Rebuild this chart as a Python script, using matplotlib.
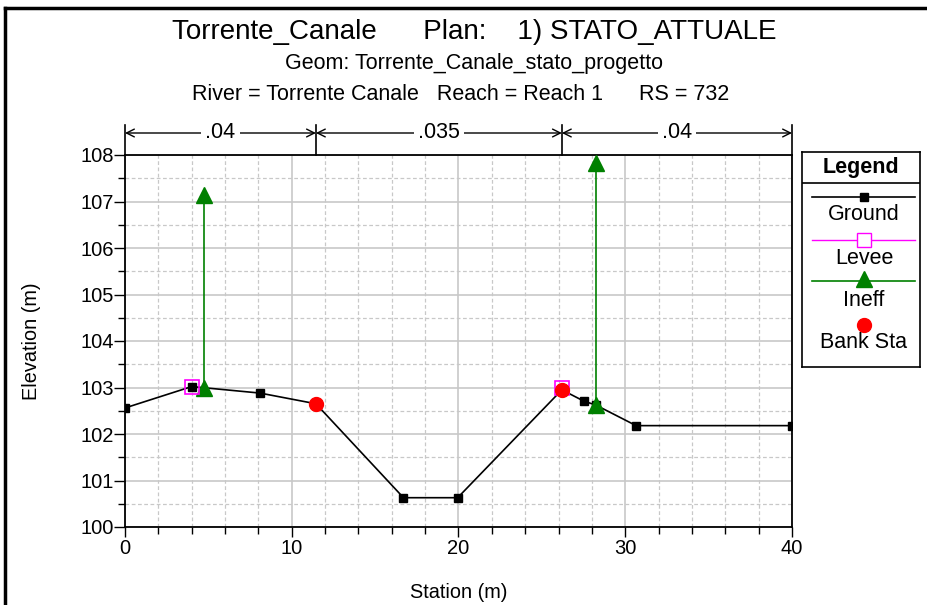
import numpy as np
import matplotlib
matplotlib.use("Agg")
import matplotlib.pyplot as plt
from matplotlib.lines import Line2D
from matplotlib.ticker import MultipleLocator
import matplotlib.transforms as mtransforms

plt.rcParams['font.family'] = ['Liberation Sans', 'DejaVu Sans']

# cross-section data (station m, elevation m)
ground_sta = [0.0, 4.0, 8.1, 11.45, 16.7, 19.95, 26.2, 27.5, 28.25, 30.65, 40.0]
ground_elev = [102.56, 103.02, 102.88, 102.65, 100.63, 100.63, 102.95, 102.71, 102.62, 102.18, 102.18]
levee_sta = [4.0, 26.2]
levee_elev = [103.02, 103.0]
ineff_sta = [4.75, 28.25]
ineff_low = [103.0, 102.62]
ineff_high = [107.15, 107.82]
bank_sta = [11.45, 26.2]
bank_elev = [102.65, 102.95]
n_bounds = [0.0, 11.45, 26.2, 40.0]
n_values = ['.04', '.035', '.04']

fig = plt.figure(figsize=(9.28, 6.05), dpi=100)
ax = fig.add_axes([125 / 928, 78 / 605, 667 / 928, 372 / 605])

ax.set_xlim(0, 40)
ax.set_ylim(100, 108)
ax.xaxis.set_major_locator(MultipleLocator(10))
ax.xaxis.set_minor_locator(MultipleLocator(2))
ax.yaxis.set_major_locator(MultipleLocator(1))
ax.yaxis.set_minor_locator(MultipleLocator(0.5))
ax.grid(which='major', color='#c8c8c8', lw=1.2, ls='-')
ax.grid(which='minor', color='#c8c8c8', lw=0.9, ls=(0, (3, 2)))
ax.set_axisbelow(True)
ax.tick_params(axis='x', which='major', direction='out', length=7, labelsize=14.5, width=1, pad=2)
ax.tick_params(axis='y', which='major', direction='out', length=8, labelsize=14.5, width=1, pad=0)
ax.tick_params(which='minor', direction='out', length=5, width=1)
for s in ax.spines.values():
    s.set_linewidth(1.3)

ax.plot(ground_sta, ground_elev, color='black', lw=1.2, marker='s', ms=6, zorder=3)
for x, lo, hi in zip(ineff_sta, ineff_low, ineff_high):
    ax.plot([x, x], [lo, hi], color='green', lw=1.2, marker='^', ms=11, zorder=4)
ax.plot(levee_sta, levee_elev, ls='none', marker='s', ms=10, mfc='none', mec='magenta', mew=1.2, zorder=5)
ax.plot(bank_sta, bank_elev, ls='none', marker='o', ms=10, color='red', zorder=6)

ax.set_xlabel('Station (m)', fontsize=14.3, va='center')
ax.xaxis.set_label_coords(0.5, -(593 - 527) / 372)
ax.set_ylabel('Elevation (m)', fontsize=14.3, va='center')
ax.yaxis.set_label_coords(-(125 - 31) / 667, 0.5)

# Manning's n band above the plot
trans = mtransforms.blended_transform_factory(ax.transData, ax.transAxes)
y_arrow = 1 + 22 / 372
for b in n_bounds:
    ax.plot([b, b], [1.0, 1 + 30 / 372], color='black', lw=1.2, transform=trans, clip_on=False)
for i, lab in enumerate(n_values):
    a, b = n_bounds[i], n_bounds[i + 1]
    mid = (a + b) / 2
    for end in (a, b):
        ax.annotate('', xy=(end, y_arrow), xytext=(mid, y_arrow), xycoords=trans, textcoords=trans,
                    arrowprops=dict(arrowstyle='->', color='black', lw=1, shrinkA=0, shrinkB=0,
                                    mutation_scale=14), annotation_clip=False)
    ax.text(mid, y_arrow, lab, transform=trans, ha='center', va='center', fontsize=15.5,
            bbox=dict(facecolor='white', edgecolor='none', pad=3), zorder=10)

# titles
fig.text(474 / 928, 1 - 32 / 605, 'Torrente_Canale      Plan:    1) STATO_ATTUALE', ha='center', va='center', fontsize=20)
fig.text(474 / 928, 1 - 64 / 605, 'Geom: Torrente_Canale_stato_progetto', ha='center', va='center', fontsize=15.5)
fig.text(461 / 928, 1 - 95 / 605, 'River = Torrente Canale   Reach = Reach 1      RS = 732', ha='center', va='center', fontsize=15.5)

# legend box
lg = fig.add_axes([802 / 928, (605 - 367) / 605, 118 / 928, 215 / 605])
lg.set_xlim(0, 118)
lg.set_ylim(215, 0)
lg.set_xticks([])
lg.set_yticks([])
for s in lg.spines.values():
    s.set_linewidth(1.2)
lg.text(59, 16, 'Legend', ha='center', va='center', fontsize=15.5, fontweight='bold')
lg.plot([0, 118], [31, 31], color='black', lw=1.2)
lg.plot([10, 113], [45, 45], color='black', lw=1.2)
lg.plot([62], [45], 's', color='black', ms=6)
lg.text(62, 63, 'Ground', ha='center', va='center', fontsize=15.5)
lg.plot([10, 113], [88, 88], color='magenta', lw=1)
lg.plot([62], [88], 's', mfc='white', mec='magenta', ms=10, mew=1)
lg.text(62, 106, 'Levee', ha='center', va='center', fontsize=15.5)
lg.plot([10, 113], [129, 129], color='green', lw=1.2)
lg.plot([62], [127], '^', color='green', ms=11)
lg.text(62, 148, 'Ineff', ha='center', va='center', fontsize=15.5)
lg.plot([62], [173], 'o', color='red', ms=10)
lg.text(62, 191, 'Bank Sta', ha='center', va='center', fontsize=15.5)

# outer frame (left and top edges visible)
fig.add_artist(Line2D([5 / 928, 5 / 928], [0, 1 - 8 / 605], color='black', lw=2.5, transform=fig.transFigure))
fig.add_artist(Line2D([5 / 928, 1], [1 - 8 / 605, 1 - 8 / 605], color='black', lw=2.5, transform=fig.transFigure))

fig.savefig('out.png', dpi=100)
